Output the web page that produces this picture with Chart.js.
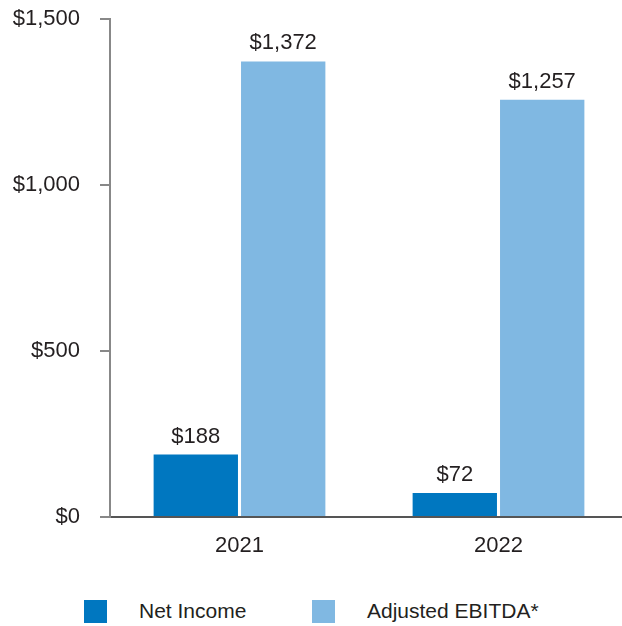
<!DOCTYPE html>
<html>
<head>
<meta charset="utf-8">
<script src="https://cdn.jsdelivr.net/npm/chart.js@4"></script>
<style>
  html, body { margin: 0; padding: 0; background: #fff; overflow: hidden; }
  #wrap { position: relative; width: 628px; height: 626px; }
  #legend { position: absolute; left: 0; top: 599px; width: 622px; height: 26px;
    font-family: 'Liberation Sans', Arial, sans-serif; font-size: 21px; color: #231f20; }
  .item { position: absolute; top: 0; display: flex; align-items: center; height: 24px; }
  .box { width: 23px; height: 23px; display: inline-block; }
  .lbl { margin-left: 32px; }
</style>
</head>
<body>
<div id="wrap">
  <canvas id="grafico" width="628" height="580"></canvas>
  <div id="legend"></div>
</div>
<script>
const anios = ['2021', '2022'];
const netIncome = [188, 72];
const adjustedEbitda = [1372, 1257];
const ticksY = [0, 500, 1000, 1500];

const colorNet = '#0077c0';
const colorEbitda = '#80b8e2';
const colorTexto = '#231f20';
const fuente = "'Liberation Sans', Arial, sans-serif";

const formatoDolar = (v) => '$' + v.toLocaleString('en-US');

// etiquetas de valor encima de cada barra
const etiquetasBarras = {
  id: 'etiquetasBarras',
  afterDatasetsDraw(chart) {
    const ctx = chart.ctx;
    ctx.save();
    ctx.font = '22px ' + fuente;
    ctx.fillStyle = colorTexto;
    ctx.textAlign = 'center';
    ctx.textBaseline = 'alphabetic';
    chart.data.datasets.forEach((ds, i) => {
      chart.getDatasetMeta(i).data.forEach((bar, j) => {
        ctx.fillText(formatoDolar(ds.data[j]), bar.x, bar.y - 12);
      });
    });
    ctx.restore();
  }
};

const chart = new Chart(document.getElementById('grafico'), {
  type: 'bar',
  data: {
    labels: anios,
    datasets: [
      { label: 'Net Income', data: netIncome, backgroundColor: colorNet },
      { label: 'Adjusted EBITDA*', data: adjustedEbitda, backgroundColor: colorEbitda }
    ]
  },
  options: {
    responsive: false,
    animation: false,
    layout: { padding: { top: 19, left: 0, right: 0, bottom: 0 } },
    datasets: { bar: { categoryPercentage: 0.675, barPercentage: 0.965 } },
    plugins: {
      legend: { display: false },
      tooltip: { enabled: false }
    },
    scales: {
      x: {
        grid: { display: false, drawTicks: false },
        border: { color: '#555', width: 2 },
        ticks: { color: colorTexto, font: { family: fuente, size: 22 }, padding: 16 },
        afterFit(scale) { scale.height = 63; }
      },
      y: {
        min: 0,
        max: 1500,
        afterBuildTicks(scale) { scale.ticks = ticksY.map(v => ({ value: v })); },
        grid: { drawOnChartArea: false, drawTicks: true, tickLength: 10, color: '#888', lineWidth: 2 },
        border: { color: '#888', width: 2 },
        ticks: {
          color: colorTexto,
          font: { family: fuente, size: 22 },
          padding: 20,
          callback: (v) => formatoDolar(v)
        },
        afterFit(scale) {
          scale.width = 110;
          scale.paddingTop = 0;
          scale.paddingBottom = 0;
        }
      }
    }
  },
  plugins: [etiquetasBarras]
});

// leyenda en HTML
const posLeyenda = [84, 312];
const legend = document.getElementById('legend');
chart.data.datasets.forEach((ds, i) => {
  const item = document.createElement('div');
  item.className = 'item';
  item.style.left = posLeyenda[i] + 'px';
  item.innerHTML = `<span class="box" style="background:${ds.backgroundColor}"></span><span class="lbl">${ds.label}</span>`;
  legend.appendChild(item);
});
</script>
</body>
</html>
